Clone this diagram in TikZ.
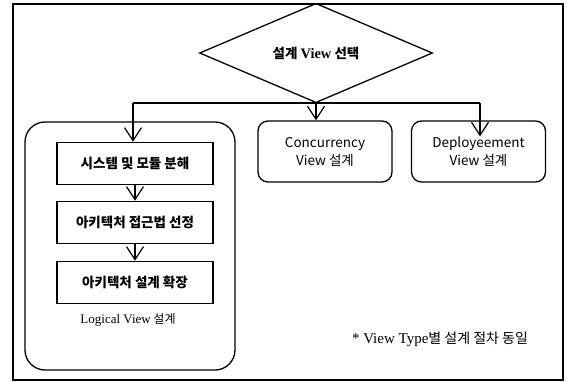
\documentclass[tikz,border=0pt]{standalone}
\usepackage{fontspec}
\setmainfont{Noto Sans CJK KR}
\newfontfamily\lat{Liberation Serif}
\usetikzlibrary{arrows.meta,positioning,shapes.geometric}

\begin{document}
\begin{tikzpicture}[
  x=1pt,
  y=-1pt,
  arr/.style={-{Straight Barb[length=13pt,width=17pt]}, line width=1.2pt},
  choice/.style={draw, diamond, line width=1.3pt, inner sep=0pt, minimum width=233pt, minimum height=58pt, font=\bfseries\fontsize{13.5}{15}\selectfont},
  group/.style={draw, line width=1.3pt, rounded corners=20pt, minimum width=210pt, minimum height=248pt},
  stepbox/.style={draw, line width=1.6pt, minimum width=156pt, minimum height=42pt, font=\bfseries\fontsize{13.5}{15}\selectfont},
  viewbox/.style={draw, line width=1.3pt, rounded corners=10pt, minimum width=134pt, minimum height=61pt, align=center, font=\fontsize{13.5}{18}\selectfont},
  label/.style={font=\fontsize{12}{14}\selectfont}
]
\useasboundingbox (0,0) rectangle (572,382);
\draw[line width=1.2pt] (13,4) rectangle (563,380);
\node[choice] (select) at (316,53) {설계 {\lat\fontsize{14.5}{15}\selectfont View} 선택};
\node[group] (logical) at (130,246) {};
\node[stepbox] (decomp) at (135,163.5) {시스템 및 모듈 분해};
\node[stepbox] (approach) at (135,222.5) {아키텍처 접근법 선정};
\node[stepbox] (extend) at (135,282.5) {아키텍처 설계 확장};
\node[label] (loglabel) at (128,320) {{\lat\fontsize{13}{14}\selectfont Logical View} 설계};
\node[viewbox] (conc) at (325,151.5) {Concurrency\\View 설계};
\node[viewbox] (deploy) at (478.5,151.5) {Deployeement\\View 설계};
\node[font=\fontsize{14}{16}\selectfont] (note) at (440,339) {{\lat\fontsize{15}{16}\selectfont * View Type}별 설계 절차 동일};
\coordinate (left) at (133,103);
\coordinate (right) at (480,103);
\draw[line width=1.3pt] (left) -- (right);
\draw[arr] (select.south) -- (select.south |- conc.north);
\draw[arr] (left) -- (left |- decomp.north);
\draw[arr] (right) -- ([yshift=-16pt]right |- deploy.north);
\draw[arr] (decomp) -- (approach);
\draw[arr] (approach) -- (extend);
\end{tikzpicture}
\end{document}
